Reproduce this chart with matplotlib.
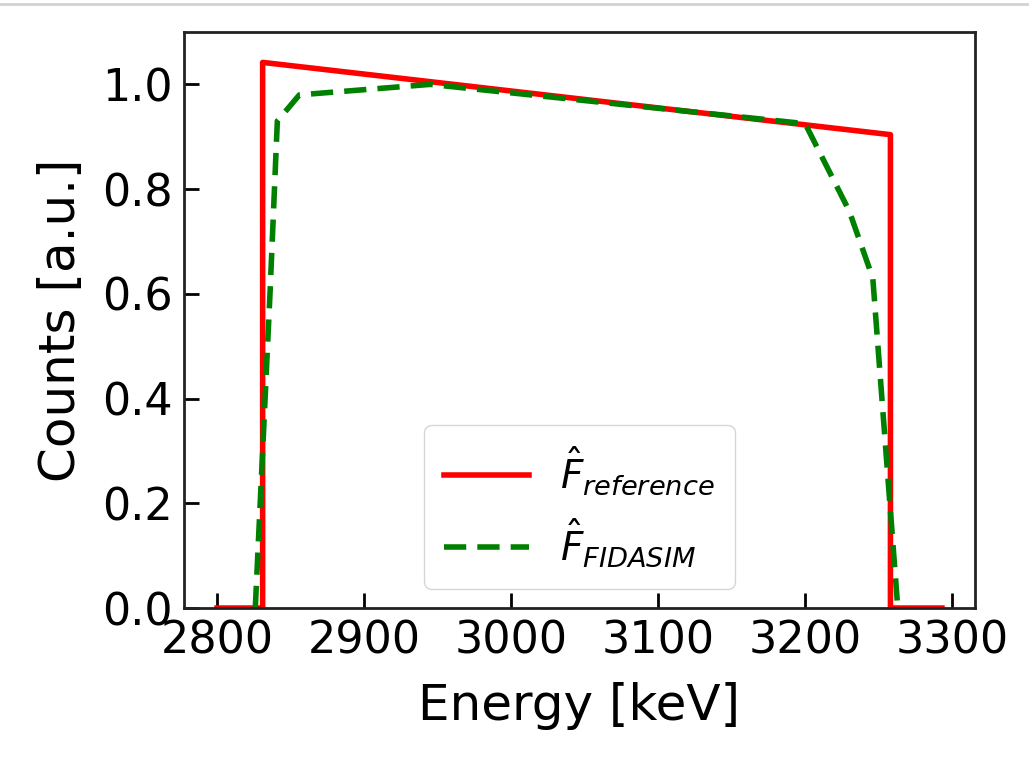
import matplotlib
matplotlib.use("Agg")
import matplotlib.pyplot as plt
from matplotlib.lines import Line2D

# Data
ref_energy = [2800, 2831, 2831, 3258, 3258, 3293]
ref_counts = [0.0, 0.0, 1.042, 0.904, 0.0, 0.0]

fid_energy = [2826, 2836, 2841, 2856, 2945, 3200, 3230, 3246, 3263]
fid_counts = [0.0, 0.60, 0.93, 0.98, 1.0, 0.925, 0.758, 0.63, 0.0]

fig = plt.figure(figsize=(10.29, 7.57), dpi=100)
ax = fig.add_axes([0.1788, 0.1968, 0.9475 - 0.1788, 0.9577 - 0.1968])

ax.plot(ref_energy, ref_counts, color="red", lw=4, label=r"$\hat{F}_{reference}$")
ax.plot(fid_energy, fid_counts, color="green", lw=4, ls="--", dashes=(4, 2),
        label=r"$\hat{F}_{FIDASIM}$")

ax.set_xlim(2777.5, 3315.5)
ax.set_ylim(0, 1.1)
ax.set_xticks([2800, 2900, 3000, 3100, 3200, 3300])
ax.set_yticks([0.0, 0.2, 0.4, 0.6, 0.8, 1.0])
ax.tick_params(direction="in", length=11, width=2, labelsize=32, pad=8)
for s in ax.spines.values():
    s.set_linewidth(2)
    s.set_color("#222222")

ax.set_xlabel("Energy [keV]", fontsize=36, labelpad=14)
ax.set_ylabel("Counts [a.u.]", fontsize=36, labelpad=12)

ax.legend(loc="lower center", fontsize=28, handlelength=2.2, borderpad=0.5,
          labelspacing=0.5, borderaxespad=0.5, handletextpad=0.8)

fig.add_artist(Line2D([0, 1], [1 - 4 / 757, 1 - 4 / 757], color="#d3d3d3", lw=2,
                      transform=fig.transFigure))

fig.savefig("out.png", dpi=100)
